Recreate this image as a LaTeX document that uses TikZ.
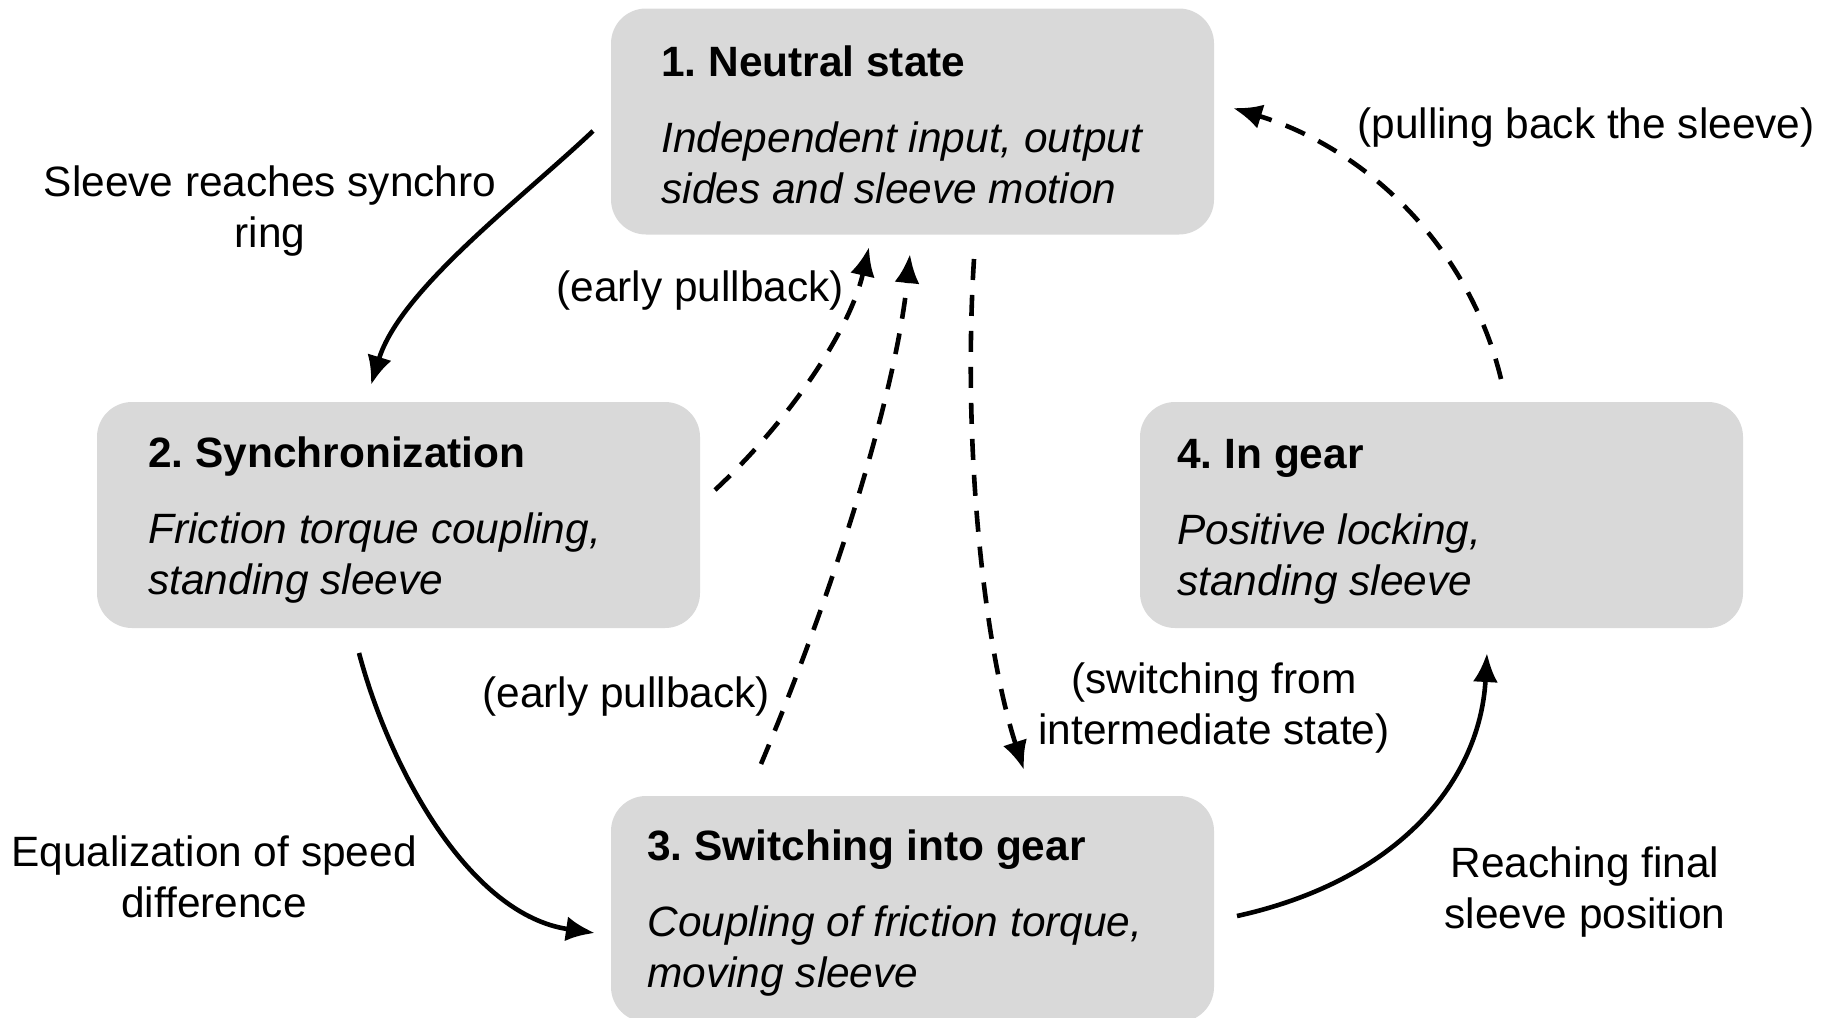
\documentclass[tikz,border=0pt]{standalone}
\usepackage{fontspec}
\setmainfont{Liberation Sans}
\usetikzlibrary{arrows.meta}
\definecolor{boxgray}{HTML}{D9D9D9}
\frenchspacing
\begin{document}
\begin{tikzpicture}[x=0.5pt,y=-0.5pt,
  box/.style={fill=boxgray,rounded corners=17.5pt,minimum width=301.5pt,minimum height=113pt,inner sep=0pt},
  boxtext/.style={anchor=base west,inner sep=0pt,align=left,font=\fontsize{21.2}{25.5}\selectfont},
  lbl/.style={inner sep=0pt,align=center,font=\fontsize{21.2}{25.5}\selectfont},
  conn/.style={line width=2.3pt,-{Latex[length=14.5pt,width=12.5pt]}},
  dconn/.style={conn,dash pattern=on 10.5pt off 7.5pt}]
\useasboundingbox (0,0) rectangle (1829,1017);
% boxes
\node[box] (b1) at (912.5,121.5) {};
\node[box] (b2) at (398.5,515) {};
\node[box] (b3) at (912.5,909) {};
\node[box] (b4) at (1441.5,515) {};
% box texts (anchor = baseline of last line)
\node[boxtext] (t1) at (661,203) {\textbf{1. Neutral state}\\[12.5pt]\textit{Independent input, output}\\\textit{sides and sleeve motion}};
\node[boxtext] (t2) at (148,594) {\textbf{2. Synchronization}\\[12.5pt]\textit{Friction torque coupling,}\\\textit{standing sleeve}};
\node[boxtext] (t3) at (647,987) {\textbf{3. Switching into gear}\\[12.5pt]\textit{Coupling of friction torque,}\\\textit{moving sleeve}};
\node[boxtext] (t4) at (1177,595) {\textbf{4. In gear}\\[12.5pt]\textit{Positive locking,}\\\textit{standing sleeve}};
% labels
\node[lbl,anchor=base] (l1) at (270,247) {Sleeve reaches synchro\\ring};
\node[lbl,anchor=base] (l2) at (214,917) {Equalization of speed\\difference};
\node[lbl,anchor=base] (l3) at (1585,928) {Reaching final\\sleeve position};
\node[lbl,anchor=base west] (l4) at (1357,138) {(pulling back the sleeve)};
\node[lbl,anchor=base west] (l5) at (556,301) {(early pullback)};
\node[lbl,anchor=base west] (l6) at (482,707) {(early pullback)};
\node[lbl,anchor=base] (l7) at (1214,744) {(switching from\\intermediate state)};
% connector endpoints
\coordinate (a1) at (593,131);  \coordinate (a2) at (371,385);
\coordinate (b1s) at (359,653); \coordinate (b2e) at (595,933);
\coordinate (c1) at (1237,916); \coordinate (c2) at (1487,653);
\coordinate (d1) at (1501,379); \coordinate (d2) at (1233,108);
\coordinate (e1) at (715,490);  \coordinate (e2) at (869,247);
\coordinate (f1) at (761,764);  \coordinate (f2) at (910,254);
\coordinate (g1) at (974,259);  \coordinate (g2) at (1024,770);
% connectors
\draw[conn] (a1) .. controls (520,200) and (400,290) .. (a2);
\draw[conn] (b1s) .. controls (390,770) and (470,915) .. (b2e);
\draw[conn] (c1) .. controls (1400,880) and (1480,780) .. (c2);
\draw[dconn] (d1) .. controls (1470,250) and (1370,150) .. (d2);
\draw[dconn] (e1) .. controls (790,420) and (850,330) .. (e2);
\draw[dconn] (f1) .. controls (830,600) and (895,400) .. (f2);
\draw[dconn] (g1) .. controls (962,450) and (985,650) .. (g2);
\end{tikzpicture}
\end{document}
